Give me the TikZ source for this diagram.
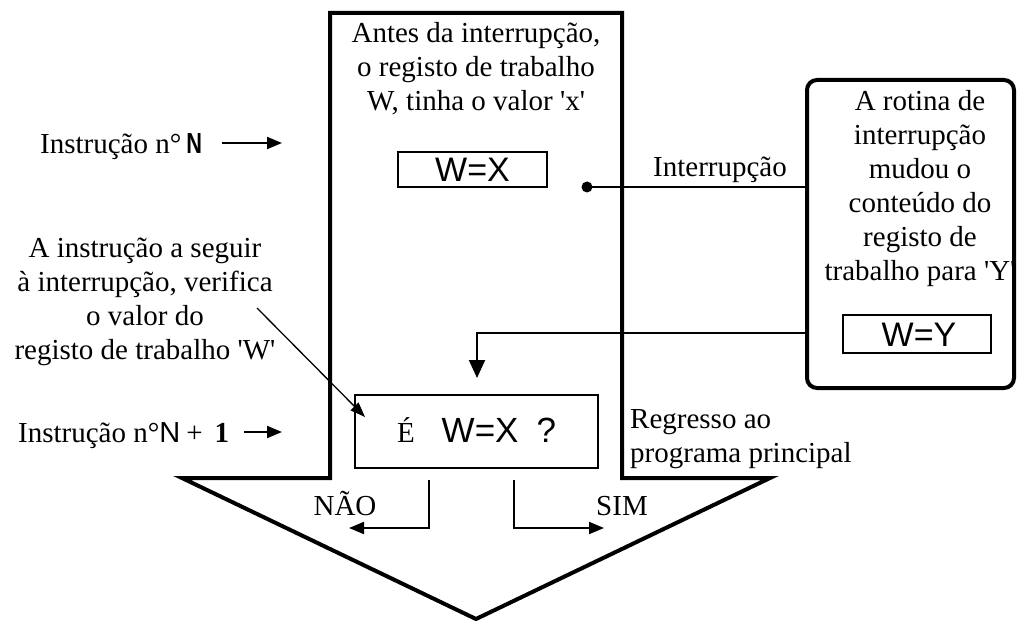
\documentclass[tikz,border=0pt]{standalone}
\usepackage{fontspec}
\setmainfont{Liberation Serif}
\setsansfont{Liberation Sans}
\usetikzlibrary{arrows.meta}
\newcommand{\sq}{\textquotesingle}
\begin{document}
\begin{tikzpicture}[x=1pt,y=-1pt,
  txt/.style={inner sep=0pt, font=\fontsize{29}{34}\selectfont, align=center},
  sanstxt/.style={inner sep=0pt, font=\fontsize{34}{40}\selectfont\sffamily},
  bigoutline/.style={line width=4pt, line join=miter},
  valbox/.style={draw, line width=1.6pt, inner sep=0pt},
  conn/.style={line width=2pt},
  tri/.style={-{Triangle[length=15pt,width=12pt]}},
  bigtri/.style={-{Triangle[length=18pt,width=16pt]}},
]
\useasboundingbox (0,0) rectangle (1018,623);
% big downward arrow outline
\draw[bigoutline] (330,13) -- (622,13) -- (622,478) -- (770,478) -- (476,619)
      -- (182,478) -- (330,478) -- cycle;
% top text in shaft
\node[txt] (topText) at (476,69) {Antes da interrupção,\\o registo de trabalho\\W, tinha o valor \sq x\sq};
% W=X box
\node[valbox, minimum width=149pt, minimum height=35pt] (wxbox) at (472.5,169.5) {};
\node[sanstxt, text depth=0pt] (wxtext) at (472.5,170) {W=X};
% interruption dot and line
\coordinate (dot) at (587,187);
\fill (dot) circle (5.5pt);
% right rounded box
\node[draw, line width=4pt, rounded corners=10pt, minimum width=207pt, minimum height=308pt, inner sep=0pt] (rbox) at (910.5,234) {};
\node[txt] (rtext) at (920,189) {A rotina de\\interrupção\\mudou o\\conteúdo do\\registo de\\trabalho para \sq Y\sq};
\node[valbox, minimum width=148pt, minimum height=38pt] (wybox) at (917,334) {};
\node[sanstxt, text depth=0pt] (wytext) at (919,334.5) {W=Y};
\draw[conn] (dot) -- (rbox.west |- dot);
\node[txt, anchor=base] (intlbl) at (720,177) {Interrupção};
% return arrow into the shaft
\coordinate (retCorner) at (477,333);
\coordinate (retEnd) at (477,378);
\draw[conn, bigtri] (rbox.west |- retCorner) -- (retCorner) -- (retEnd);
% question box
\node[valbox, line width=2pt, minimum width=243pt, minimum height=73pt] (ewx) at (476.5,431.5) {};
\node[inner sep=0pt, anchor=base] (ewxtext) at (476.5,442)
  {\fontsize{29}{34}\selectfont É\hspace{27pt}{\fontsize{35}{40}\selectfont\sffamily W=X}\hspace{18pt}{\fontsize{35}{40}\selectfont\sffamily ?}};
% left labels
\node[txt, anchor=base west] (instrN) at (40,154) {Instrução n°\,{\sffamily\bfseries\scalebox{0.75}[1]{N}}};
\coordinate (instrNa) at (222,143);
\coordinate (instrNb) at (282,143);
\draw[conn, tri] (instrNa) -- (instrNb);
\node[txt, anchor=base west] (instrN1) at (18,442) {Instrução n°{\sffamily N}\hspace{6pt}+\hspace{12pt}\textbf{1}};
\coordinate (instrN1a) at (244,432);
\coordinate (instrN1b) at (282,432);
\draw[conn, tri] (instrN1a) -- (instrN1b);
\node[txt] (leftText) at (145,302) {A instrução a seguir\\à interrupção, verifica\\o valor do\\registo de trabalho \sq W\sq};
\coordinate (ptrStart) at (257,308);
\coordinate (ptrEnd) at (365,417);
\draw[line width=1.3pt, -{Triangle[length=15pt,width=11pt]}] (ptrStart) -- (ptrEnd);
% return text
\node[txt, align=left, anchor=west] (regresso) at (630,439) {Regresso ao\\programa principal};
% branches
\coordinate (noTop) at (429,480);
\coordinate (noCorner) at (429,528);
\coordinate (noEnd) at (349,528);
\draw[conn, tri] (noTop) -- (noCorner) -- (noEnd);
\coordinate (yesTop) at (514,480);
\coordinate (yesCorner) at (514,528);
\coordinate (yesEnd) at (604,528);
\draw[conn, tri] (yesTop) -- (yesCorner) -- (yesEnd);
\node[txt, anchor=base] (nao) at (345,515) {NÃO};
\node[txt, anchor=base] (sim) at (622,515) {SIM};
\end{tikzpicture}
\end{document}
